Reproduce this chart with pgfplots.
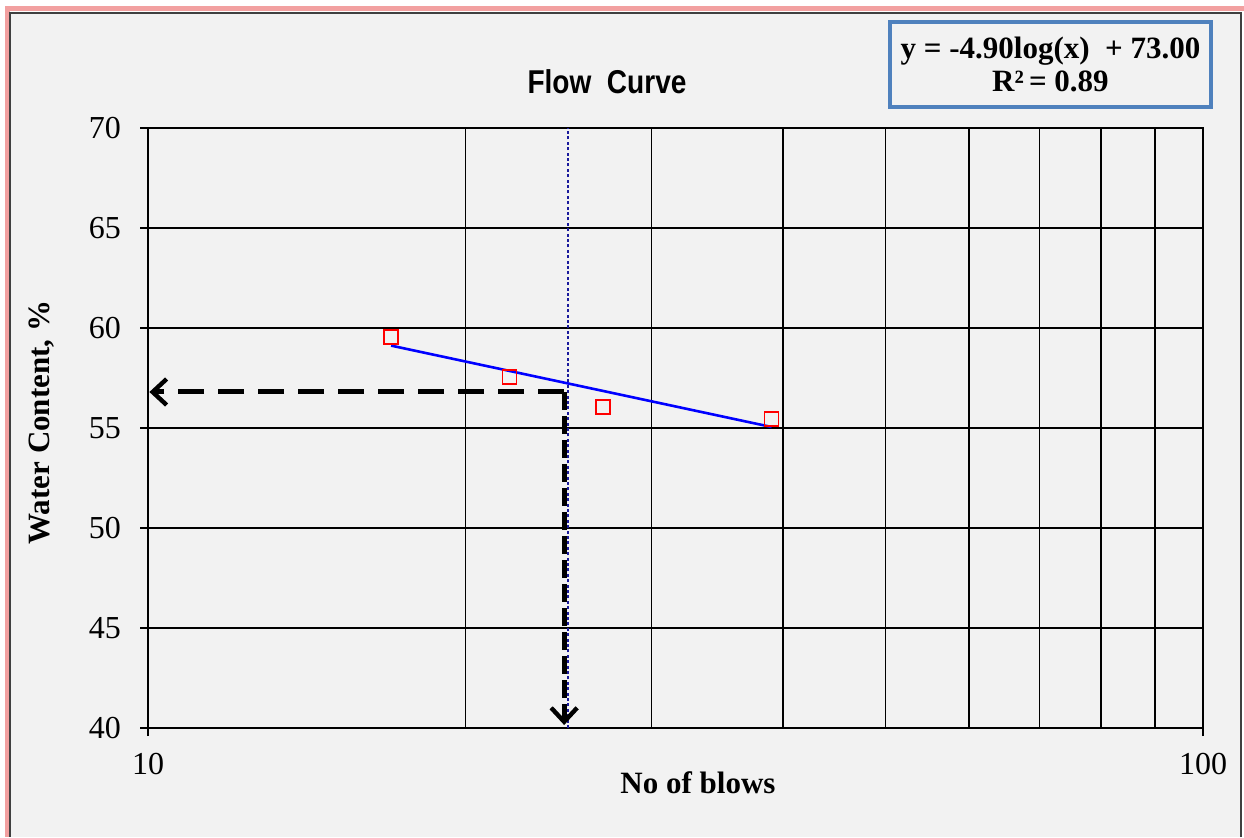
\documentclass[border=0pt]{standalone}
\usepackage{pgfplots}
\pgfplotsset{compat=1.18}
\usepackage{fontspec}
\setmainfont{Liberation Serif}
\newfontfamily\titlefont[FakeStretch=0.85]{Liberation Sans}
\usetikzlibrary{arrows.meta}

\definecolor{panelgray}{HTML}{F2F2F2}
\definecolor{framegray}{HTML}{404040}
\definecolor{sheetpink}{HTML}{F2A0A0}
\definecolor{boxblue}{HTML}{4F81BD}
\definecolor{guidenavy}{HTML}{1A1A9C}

\begin{document}
\begin{tikzpicture}
% page and chart frame
\useasboundingbox (0,0) rectangle (622pt,418.5pt);
\fill[white] (0,0) rectangle (622pt,418.5pt);
\fill[panelgray] (5pt,0) rectangle (620.5pt,412pt);
\draw[sheetpink, line width=2.5pt] (3.6pt,0) -- (3.6pt,414.3pt) -- (622pt,414.3pt);
\draw[framegray, line width=1.2pt] (5pt,0) -- (5pt,412pt) -- (620.5pt,412pt) -- (620.5pt,0);

\begin{axis}[
  at={(74pt,54.5pt)}, anchor=south west,
  scale only axis, width=527.5pt, height=300pt,
  xmode=log, xmin=10, xmax=100, ymin=40, ymax=70,
  xtick={10,100}, xticklabels={10,100},
  minor xtick={20,30,40,50,60,70,80,90},
  ytick={40,45,...,70},
  xmajorgrids, xminorgrids, ymajorgrids,
  major grid style={black, line width=0.8pt},
  minor grid style={black, line width=0.8pt},
  axis line style={black, line width=0.8pt},
  tick align=outside, tick pos=left,
  major tick length=4pt, minor tick length=0pt,
  tick style={black, line width=0.8pt},
  ticklabel style={font=\fontsize{16}{16}\selectfont},
  yticklabel style={xshift=-6pt},
  xticklabel style={yshift=-5pt},
  /pgf/number format/assume math mode=true,
  axis background/.style={fill=panelgray},
  clip=false,
]
% 25-blow reference line
\addplot[guidenavy, line width=0.8pt, dash pattern=on 1.5pt off 1.2pt]
  coordinates {(25,40) (25,70)};

% liquid limit read-off
\draw[black, line width=2.5pt, dash pattern=on 13pt off 7pt,
      -{Straight Barb[length=7pt,width=13pt,line width=2.2pt]}]
  (axis cs:24.8,56.8) -- (axis cs:10.03,56.8);
\draw[black, line width=2.5pt, dash pattern=on 9pt off 3pt,
      -{Straight Barb[length=7pt,width=13pt,line width=2.2pt]}]
  (axis cs:24.8,56.8) -- (axis cs:24.8,40.15);

% logarithmic trend line y = -4.90 ln(x) + 73.00
\addplot[blue, line width=1.3pt] coordinates {(17,59.12) (39,55.05)};

% test points
\addplot[only marks, mark=square, mark size=3.5pt,
         mark options={draw=red, fill=none, line width=0.7pt}]
  coordinates {(17,59.55) (22,57.55) (27,56.05) (39,55.45)};
\end{axis}

% titles and labels
\node[font=\titlefont\bfseries\fontsize{16.5}{16.5}\selectfont] at (303.5pt,377.5pt) {Flow\ \ Curve};
\node[font=\bfseries\fontsize{15.5}{15.5}\selectfont] at (349pt,27pt) {No of blows};
\node[font=\bfseries\fontsize{15.5}{15.5}\selectfont, rotate=90] at (21pt,207.25pt) {Water Content, \%};

% trend line equation
\node[draw=boxblue, line width=2pt, fill=panelgray, minimum width=160.5pt, minimum height=42.5pt,
      align=center, inner sep=0pt, font=\bfseries\fontsize{15.5}{16.5}\selectfont]
  at (525.25pt,386.25pt) {y = -4.90log(x)\ \ + 73.00\\R²\,= 0.89};
\end{tikzpicture}
\end{document}
